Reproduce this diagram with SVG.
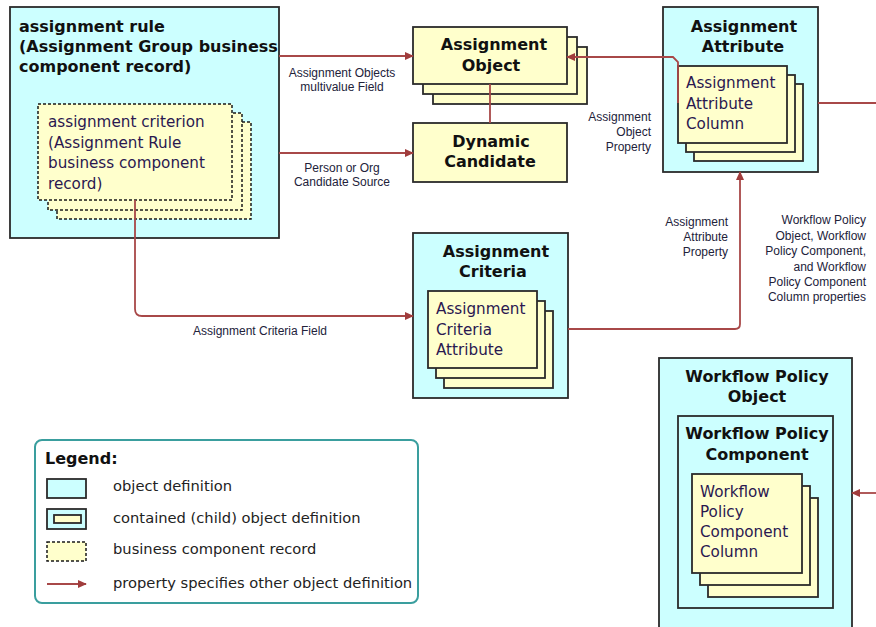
<svg xmlns="http://www.w3.org/2000/svg" width="876" height="627" viewBox="0 0 876 627">
  <defs>
    <style>
      .obj { fill: #ccffff; stroke: #2b2b2b; stroke-width: 1.8; }
      .child { fill: #ffffcc; stroke: #2b2b2b; stroke-width: 1.8; }
      .rec { fill: #ffffcc; stroke: #1a1a1a; stroke-width: 1.5; stroke-dasharray: 3 2; }
      .title { font-family: "DejaVu Sans", Verdana, sans-serif; font-weight: bold; font-size: 16px; fill: #111111; }
      .body { font-family: "DejaVu Sans", Verdana, sans-serif; font-size: 15.2px; fill: #2a1850; }
      .lbl { font-family: "Liberation Sans", Arial, sans-serif; font-size: 12px; fill: #22223a; }
      .leg { font-family: "DejaVu Sans", Verdana, sans-serif; font-size: 14.7px; fill: #222222; }
      .conn { fill: none; stroke: #a84848; stroke-width: 1.8; }
    </style>
    <marker id="arrow" viewBox="0 0 10 10" refX="9" refY="5" markerWidth="9" markerHeight="9" markerUnits="userSpaceOnUse" orient="auto">
      <path d="M0,0.5 L10,5 L0,9.5 Z" fill="#a03c3c"/>
    </marker>
  </defs>

  <rect width="876" height="627" fill="#ffffff"/>

  <!-- assignment rule with its business component records -->
  <g id="assignment-rule">
    <rect class="obj" x="10" y="7" width="269" height="231"/>
    <text class="title" x="19" y="32">assignment rule</text>
    <text class="title" x="19" y="52">(Assignment Group business</text>
    <text class="title" x="19" y="72">component record)</text>
    <g id="assignment-criterion">
      <rect class="rec" x="57" y="122" width="194" height="97"/>
      <rect class="rec" x="48" y="113" width="194" height="97"/>
      <rect class="rec" x="38" y="104" width="194" height="96"/>
      <text class="body" x="48" y="127">assignment criterion</text>
      <text class="body" x="48" y="148">(Assignment Rule</text>
      <text class="body" x="48" y="168">business component</text>
      <text class="body" x="48" y="189">record)</text>
    </g>
  </g>

  <g id="assignment-object">
    <rect class="child" x="433" y="47" width="154" height="57"/>
    <rect class="child" x="423" y="37" width="154" height="57"/>
    <rect class="child" x="413" y="27" width="154" height="57"/>
    <text class="title" x="494" y="50" text-anchor="middle">Assignment</text>
    <text class="title" x="491" y="71" text-anchor="middle">Object</text>
  </g>

  <g id="dynamic-candidate">
    <rect class="child" x="413" y="123" width="154" height="59"/>
    <text class="title" x="491" y="147" text-anchor="middle">Dynamic</text>
    <text class="title" x="490" y="167" text-anchor="middle">Candidate</text>
  </g>

  <g id="assignment-attribute">
    <rect class="obj" x="663" y="7" width="155" height="165"/>
    <text class="title" x="744" y="32" text-anchor="middle">Assignment</text>
    <text class="title" x="743" y="52" text-anchor="middle">Attribute</text>
    <g id="assignment-attribute-column">
      <rect class="child" x="694" y="84" width="109" height="77"/>
      <rect class="child" x="686" y="75" width="109" height="77"/>
      <rect class="child" x="678" y="66" width="109" height="77"/>
      <text class="body" x="686" y="88">Assignment</text>
      <text class="body" x="686" y="109">Attribute</text>
      <text class="body" x="686" y="129">Column</text>
    </g>
  </g>

  <g id="assignment-criteria">
    <rect class="obj" x="413" y="233" width="155" height="165"/>
    <text class="title" x="496" y="257" text-anchor="middle">Assignment</text>
    <text class="title" x="493" y="277" text-anchor="middle">Criteria</text>
    <g id="assignment-criteria-attribute">
      <rect class="child" x="444" y="311" width="109" height="77"/>
      <rect class="child" x="436" y="301" width="109" height="77"/>
      <rect class="child" x="428" y="291" width="109" height="77"/>
      <text class="body" x="436" y="314">Assignment</text>
      <text class="body" x="436" y="335">Criteria</text>
      <text class="body" x="436" y="355">Attribute</text>
    </g>
  </g>

  <g id="workflow-policy-object">
    <rect class="obj" x="659" y="358" width="193" height="275"/>
    <text class="title" x="757" y="382" text-anchor="middle">Workflow Policy</text>
    <text class="title" x="757" y="402" text-anchor="middle">Object</text>
    <g id="workflow-policy-component">
      <rect class="obj" x="678" y="416" width="155" height="192"/>
      <text class="title" x="757" y="439" text-anchor="middle">Workflow Policy</text>
      <text class="title" x="757" y="460" text-anchor="middle">Component</text>
      <g id="workflow-policy-component-column">
        <rect class="child" x="708" y="498" width="110" height="99"/>
        <rect class="child" x="700" y="486" width="110" height="99"/>
        <rect class="child" x="692" y="474" width="110" height="99"/>
        <text class="body" x="700" y="497">Workflow</text>
        <text class="body" x="700" y="517">Policy</text>
        <text class="body" x="700" y="537">Component</text>
        <text class="body" x="700" y="557">Column</text>
      </g>
    </g>
  </g>

  <!-- connectors and their property labels -->
  <g id="connectors">
    <path class="conn" d="M279,56 H413" marker-end="url(#arrow)"/>
    <path class="conn" d="M279,153 H413" marker-end="url(#arrow)"/>
    <path class="conn" d="M490,84 V123"/>
    <path class="conn" d="M678,103 V62 L673,57 H567" marker-end="url(#arrow)"/>
    <path class="conn" d="M135,200 V309 Q135,316 142,316 H413" marker-end="url(#arrow)"/>
    <path class="conn" d="M568,329 H735 Q740,329 740,324 V172" marker-end="url(#arrow)"/>
    <path class="conn" d="M818,103 H876"/>
    <path class="conn" d="M876,493 H852" marker-end="url(#arrow)"/>

    <text class="lbl" x="342" y="77" text-anchor="middle">Assignment Objects</text>
    <text class="lbl" x="342" y="91" text-anchor="middle">multivalue Field</text>
    <text class="lbl" x="342" y="172" text-anchor="middle">Person or Org</text>
    <text class="lbl" x="342" y="186" text-anchor="middle">Candidate Source</text>
    <text class="lbl" x="260" y="335" text-anchor="middle">Assignment Criteria Field</text>
    <text class="lbl" x="651" y="121" text-anchor="end">Assignment</text>
    <text class="lbl" x="651" y="136" text-anchor="end">Object</text>
    <text class="lbl" x="651" y="151" text-anchor="end">Property</text>
    <text class="lbl" x="728" y="226" text-anchor="end">Assignment</text>
    <text class="lbl" x="728" y="241" text-anchor="end">Attribute</text>
    <text class="lbl" x="728" y="256" text-anchor="end">Property</text>
    <text class="lbl" x="866" y="224" text-anchor="end">Workflow Policy</text>
    <text class="lbl" x="866" y="240" text-anchor="end">Object, Workflow</text>
    <text class="lbl" x="866" y="255" text-anchor="end">Policy Component,</text>
    <text class="lbl" x="866" y="271" text-anchor="end">and Workflow</text>
    <text class="lbl" x="866" y="286" text-anchor="end">Policy Component</text>
    <text class="lbl" x="866" y="301" text-anchor="end">Column properties</text>
  </g>

  <g id="legend">
    <rect x="35" y="440" width="383" height="163" rx="7" fill="#ffffff" stroke="#3a9e9e" stroke-width="2"/>
    <text class="title" x="45" y="464">Legend:</text>
    <rect class="obj" x="47" y="479" width="39" height="19"/>
    <text class="leg" x="113" y="491">object definition</text>
    <rect class="obj" x="47" y="509" width="39" height="20"/>
    <rect class="child" x="54" y="515" width="27" height="8" stroke-width="1.5"/>
    <text class="leg" x="113" y="523">contained (child) object definition</text>
    <rect class="rec" x="47" y="542" width="39" height="19"/>
    <text class="leg" x="113" y="554">business component record</text>
    <path class="conn" d="M47,584 H86" marker-end="url(#arrow)"/>
    <text class="leg" x="113" y="588">property specifies other object definition</text>
  </g>
</svg>
